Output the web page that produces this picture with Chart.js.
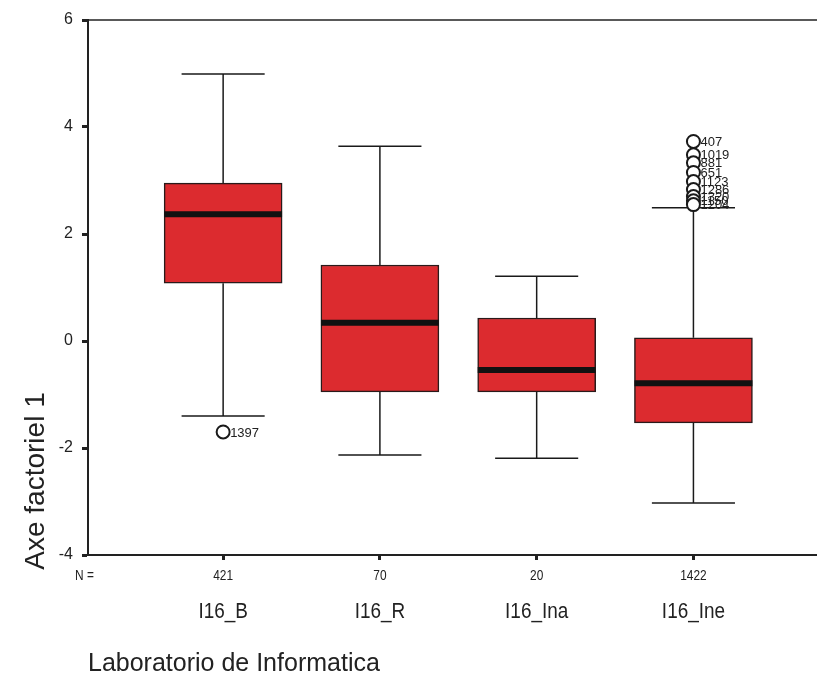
<!DOCTYPE html>
<html>
<head>
<meta charset="utf-8">
<script src="https://cdn.jsdelivr.net/npm/chart.js@4.4.1/dist/chart.umd.min.js"></script>
<style>
  html, body { margin: 0; padding: 0; background: #fff; }
  #wrap { width: 817px; height: 680px; }
</style>
</head>
<body>
<div id="wrap"><canvas id="boxChart"></canvas></div>
<script>
// groups (x position 1..4)
const categories = ["I16_B", "I16_R", "I16_Ina", "I16_Ine"];
const nCounts = ["421", "70", "20", "1422"];

// box statistics
const whiskerLow = [-1.40, -2.13, -2.19, -3.03];
const q1 = [1.08, -0.95, -0.95, -1.53];
const medians = [2.37, 0.34, -0.54, -0.79];
const q3 = [2.95, 1.42, 0.43, 0.06];
const whiskerHigh = [4.99, 3.64, 1.21, 2.49];

// outliers: group index, value, case label
const outlierGroup = [0, 3, 3, 3, 3, 3, 3, 3, 3, 3];
const outlierValues = [-1.70, 3.73, 3.48, 3.33, 3.15, 2.98, 2.83, 2.70, 2.62, 2.55];
const outlierLabels = ["1397", "407", "1019", "881", "651", "1123", "1286", "1320", "1150", "1204"];

const yTicks = [-4, -2, 0, 2, 4, 6];

const boxHalf = 0.376;  // half box width in x units
const capHalf = 0.265;  // half whisker cap width
const sans = "'Liberation Sans', Arial, Helvetica, sans-serif";

window.onload = () => {
  const ctx = document.querySelector("#boxChart").getContext("2d");

  const boxData = categories.map((c, i) => ({ x: i + 1, y: [q1[i], q3[i]] }));

  const whiskerData = [];
  const medianData = [];
  categories.forEach((c, i) => {
    const x = i + 1;
    whiskerData.push({ x: x, y: q3[i] }, { x: x, y: whiskerHigh[i] }, { x: x, y: null });
    whiskerData.push({ x: x - capHalf, y: whiskerHigh[i] }, { x: x + capHalf, y: whiskerHigh[i] }, { x: x, y: null });
    whiskerData.push({ x: x, y: q1[i] }, { x: x, y: whiskerLow[i] }, { x: x, y: null });
    whiskerData.push({ x: x - capHalf, y: whiskerLow[i] }, { x: x + capHalf, y: whiskerLow[i] }, { x: x, y: null });
    medianData.push({ x: x - boxHalf, y: medians[i] }, { x: x + boxHalf, y: medians[i] }, { x: x, y: null });
  });

  const outlierData = outlierValues.map((v, i) => ({ x: outlierGroup[i] + 1, y: v }));

  // narrow text: squeeze horizontally like the scanned original
  const narrowText = (c, text, x, y, squeeze) => {
    c.save();
    c.translate(x, y);
    c.scale(squeeze, 1);
    c.fillText(text, 0, 0);
    c.restore();
  };

  const extras = {
    id: "extras",
    afterDatasetsDraw(chart) {
      const c = chart.ctx;
      const area = chart.chartArea;
      const xs = chart.scales.x;

      c.save();
      // top frame line and bottom axis run to the page edge
      c.strokeStyle = "#222";
      c.lineWidth = 1.5;
      c.beginPath();
      c.moveTo(area.left, area.top);
      c.lineTo(chart.width, area.top);
      c.stroke();
      c.lineWidth = 2;
      c.beginPath();
      c.moveTo(area.right - 1, area.bottom);
      c.lineTo(chart.width, area.bottom);
      c.stroke();

      // outlier case numbers
      const meta = chart.getDatasetMeta(3);
      c.fillStyle = "#222";
      c.font = "13px " + sans;
      c.textBaseline = "middle";
      c.textAlign = "left";
      meta.data.forEach((pt, i) => {
        c.fillText(outlierLabels[i], pt.x + 7, pt.y + 1);
      });

      // N = row and counts
      c.font = "14px " + sans;
      c.textAlign = "left";
      narrowText(c, "N =", 75, 576, 0.85);
      c.textAlign = "center";
      nCounts.forEach((n, i) => {
        narrowText(c, n, xs.getPixelForValue(i + 1), 576, 0.85);
      });

      // group names
      c.font = "22px " + sans;
      c.textAlign = "center";
      categories.forEach((name, i) => {
        narrowText(c, name, xs.getPixelForValue(i + 1), 612, 0.86);
      });

      // x title
      c.font = "25px " + sans;
      c.textAlign = "left";
      c.fillText("Laboratorio de Informatica", 88, 664);

      // y title
      c.translate(36, 481);
      c.rotate(-Math.PI / 2);
      c.font = "28px " + sans;
      c.textAlign = "center";
      c.fillText("Axe factoriel 1", 0, 0);
      c.restore();
    },
  };

  new Chart(ctx, {
    type: "bar",
    data: {
      datasets: [
        {
          type: "bar",
          data: boxData,
          backgroundColor: "#dc2b2f",
          borderColor: "#2a1a1a",
          borderWidth: 1.5,
          borderSkipped: false,
          barThickness: 118,
          order: 4,
        },
        {
          type: "line",
          data: whiskerData,
          borderColor: "#1a1a1a",
          borderWidth: 1.5,
          pointRadius: 0,
          spanGaps: false,
          order: 3,
        },
        {
          type: "line",
          data: medianData,
          borderColor: "#111",
          borderWidth: 6,
          pointRadius: 0,
          spanGaps: false,
          order: 2,
        },
        {
          type: "scatter",
          data: outlierData,
          pointRadius: 6.5,
          pointBackgroundColor: "#fff",
          pointBorderColor: "#1a1a1a",
          pointBorderWidth: 2,
          clip: false,
          order: 1,
        },
      ],
    },
    options: {
      responsive: true,
      maintainAspectRatio: false,
      animation: false,
      layout: { padding: { top: 20, left: 0, right: 0, bottom: 0 } },
      plugins: { legend: { display: false }, tooltip: { enabled: false } },
      scales: {
        x: {
          type: "linear",
          offset: false,
          min: 0.138,
          max: 4.734,
          afterBuildTicks: (s) => {
            s.ticks = categories.map((c, i) => ({ value: i + 1 }));
          },
          afterFit: (s) => { s.height = 125; },
          border: { display: true, color: "#222", width: 2 },
          grid: { offset: false, drawOnChartArea: false, drawTicks: true, tickLength: 5, tickWidth: 3, tickColor: "#222" },
          ticks: { display: false },
        },
        y: {
          min: -4,
          max: 6,
          afterBuildTicks: (s) => {
            s.ticks = yTicks.map((v) => ({ value: v }));
          },
          afterFit: (s) => { s.width = 88; },
          border: { display: true, color: "#222", width: 2 },
          grid: { drawOnChartArea: false, drawTicks: true, tickLength: 6, tickWidth: 3, tickColor: "#222" },
          ticks: {
            color: "#222",
            font: { family: sans, size: 16 },
            padding: 9,
          },
        },
      },
    },
    plugins: [extras],
  });
};
</script>
</body>
</html>
